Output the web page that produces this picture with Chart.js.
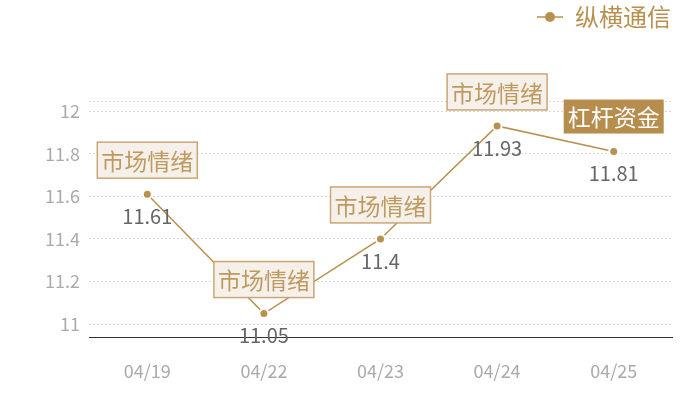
<!DOCTYPE html>
<html>
<head>
<meta charset="utf-8">
<script src="https://cdn.jsdelivr.net/npm/chart.js@4/dist/chart.umd.min.js"></script>
<style>
  html, body { margin: 0; padding: 0; background: #fff; }
  #wrap { width: 700px; height: 400px; }
</style>
</head>
<body>
<div id="wrap"><canvas id="graph-price"></canvas></div>
<script>
const dates = ['04/19', '04/22', '04/23', '04/24', '04/25'];
const prices = [11.61, 11.05, 11.4, 11.93, 11.81];
const tags = ['市场情绪', '市场情绪', '市场情绪', '市场情绪', '杠杆资金'];
const tagFilled = [false, false, false, false, true];
const yTicks = [11, 11.2, 11.4, 11.6, 11.8, 12];

const gold = '#b8914f';
const font = '"Noto Sans CJK SC", "Noto Sans", sans-serif';

// legend marker: short line with a dot
var marker = document.createElement('canvas');
marker.width = 26;
marker.height = 12;
var mctx = marker.getContext('2d');
mctx.strokeStyle = gold;
mctx.lineWidth = 1.5;
mctx.beginPath();
mctx.moveTo(0, 6);
mctx.lineTo(26, 6);
mctx.stroke();
mctx.fillStyle = gold;
mctx.beginPath();
mctx.arc(13, 6, 5, 0, Math.PI * 2);
mctx.fill();

// draws the tag boxes above the points and the values below them
const pointLabels = {
    id: 'pointLabels',
    afterDatasetsDraw(chart) {
        var ctx = chart.ctx;
        var meta = chart.getDatasetMeta(0);
        ctx.save();
        ctx.textAlign = 'center';
        ctx.textBaseline = 'middle';
        meta.data.forEach(function (pt, i) {
            // value under the point
            ctx.font = '20px ' + font;
            ctx.fillStyle = '#666';
            ctx.fillText(String(prices[i]), pt.x, pt.y + 22);

            // tag box above the point
            ctx.font = '23px ' + font;
            var w = ctx.measureText(tags[i]).width + 8;
            var h = 36;
            var cy = pt.y - 34;
            if (tagFilled[i]) {
                ctx.fillStyle = '#b68d4c';
                ctx.fillRect(pt.x - w / 2, cy - h / 2, w, h - 2);
                ctx.fillStyle = '#fff';
                ctx.fillText(tags[i], pt.x, cy);
            } else {
                ctx.fillStyle = '#f5f0ea';
                ctx.fillRect(pt.x - w / 2, cy - h / 2, w, h);
                ctx.strokeStyle = '#c9a775';
                ctx.lineWidth = 1.5;
                ctx.strokeRect(pt.x - w / 2, cy - h / 2, w, h);
                ctx.fillStyle = '#bf9a60';
                ctx.fillText(tags[i], pt.x, cy + 1);
            }
        });
        ctx.restore();
    }
};

var graphPrice = document.getElementById('graph-price').getContext('2d');
var price = new Chart(graphPrice, {
    type: 'line',
    data: {
        labels: dates,
        datasets: [{
            label: '纵横通信',
            data: prices,
            borderColor: gold,
            backgroundColor: gold,
            borderWidth: 1.5,
            pointRadius: 4.5,
            pointBorderColor: '#fff',
            pointBorderWidth: 2,
            pointBackgroundColor: gold,
            tension: 0
        }]
    },
    options: {
        responsive: true,
        maintainAspectRatio: false,
        animation: false,
        layout: { padding: { top: 4, right: 28, left: 0, bottom: 0 } },
        plugins: {
            tooltip: { enabled: false },
            legend: {
                position: 'top',
                align: 'end',
                labels: {
                    usePointStyle: true,
                    pointStyle: marker,
                    pointStyleWidth: 26,
                    color: gold,
                    padding: 1,
                    font: { size: 24, family: font }
                }
            },
            // empty spacer between legend and plot
            subtitle: {
                display: true,
                text: ' ',
                weight: 500,
                font: { size: 10 },
                padding: { top: 0, bottom: 50 }
            }
        },
        scales: {
            x: {
                offset: true,
                grid: { display: false },
                border: { display: true, color: '#333', width: 1 },
                afterFit: function (axis) { axis.height = 63; },
                ticks: {
                    color: '#aaa',
                    padding: 15,
                    font: { size: 18, family: font }
                }
            },
            y: {
                min: 10.94,
                max: 12.047,
                border: { display: false, dash: [2, 2] },
                grid: { color: '#d9d9d9', lineWidth: 1, tickLength: 0 },
                afterBuildTicks: function (axis) {
                    axis.ticks = yTicks.map(function (v) { return { value: v }; })
                        .concat([{ value: 12.047 }]);
                },
                afterFit: function (axis) { axis.width = 89; },
                ticks: {
                    color: '#aaa',
                    padding: 9,
                    font: { size: 18, family: font },
                    callback: function (v) {
                        return yTicks.indexOf(v) >= 0 ? String(v) : '';
                    }
                }
            }
        }
    },
    plugins: [pointLabels]
});
</script>
</body>
</html>
